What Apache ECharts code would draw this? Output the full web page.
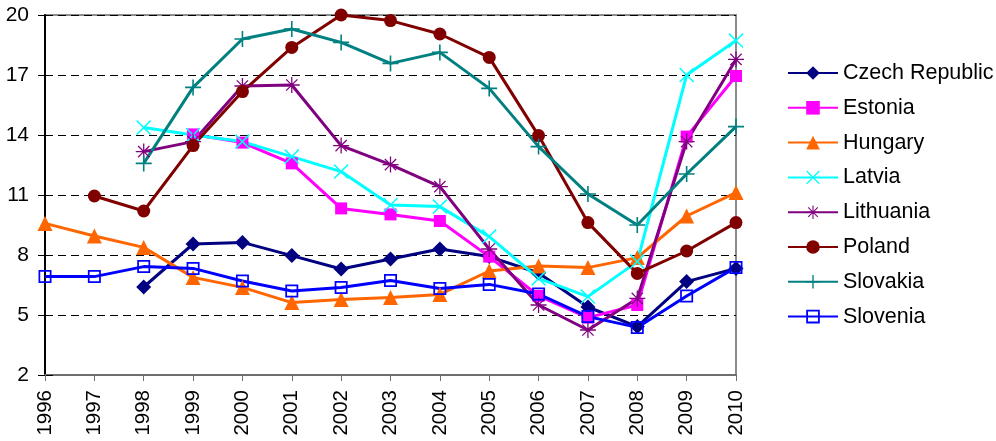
<!DOCTYPE html>
<html>
<head>
<meta charset="utf-8">
<script src="https://cdn.jsdelivr.net/npm/echarts@6/dist/echarts.min.js"></script>
<style>
  html, body { margin: 0; padding: 0; background: #fff; }
  #chart { width: 996px; height: 441px; }
</style>
</head>
<body>
<div id="chart"></div>
<script>
// Years on the category axis
const years = ['1996','1997','1998','1999','2000','2001','2002','2003','2004','2005','2006','2007','2008','2009','2010'];

// Series values per country (null = no data for that year)
const czechRepublic = [null, null, 6.4, 8.55, 8.63, 7.97, 7.3, 7.8, 8.3, 7.92, 7.1, 5.4, 4.42, 6.67, 7.33];
const estonia       = [null, null, null, 14.03, 13.62, 12.58, 10.33, 10.03, 9.7, 7.92, 5.95, 4.87, 5.5, 13.92, 16.95];
const hungary       = [9.58, 8.95, 8.38, 6.88, 6.38, 5.62, 5.78, 5.88, 6.03, 7.2, 7.45, 7.37, 7.87, 9.95, 11.12];
const latvia        = [null, null, 14.37, 14.0, 13.67, 12.92, 12.17, 10.5, 10.42, 8.92, 6.83, 5.92, 7.67, 17.0, 18.72];
const lithuania     = [null, null, 13.17, 13.67, 16.45, 16.5, 13.47, 12.52, 11.42, 8.3, 5.5, 4.25, 5.83, 13.67, 17.78];
const poland        = [null, 10.95, 10.2, 13.47, 16.17, 18.38, 20.0, 19.72, 19.05, 17.88, 13.97, 9.62, 7.08, 8.2, 9.62];
const slovakia      = [null, null, 12.58, 16.38, 18.8, 19.3, 18.63, 17.58, 18.13, 16.33, 13.42, 11.05, 9.5, 12.05, 14.42];
const slovenia      = [6.92, 6.92, 7.42, 7.33, 6.7, 6.2, 6.37, 6.72, 6.33, 6.53, 6.05, 4.92, 4.38, 5.95, 7.38];

// Y axis range and step
const yMin = 2, yMax = 20, yStep = 3;

const fontFamily = 'Liberation Sans, Arial, sans-serif';

// Marker shapes drawn as filled outlines
const plusPath = 'path://M9,0H11V9H20V11H11V20H9V11H0V9H9Z';
const crossPath = 'path://M1.4,0L10,8.6L18.6,0L20,1.4L11.4,10L20,18.6L18.6,20L10,11.4L1.4,20L0,18.6L8.6,10L0,1.4Z';
const starPath = 'path://M9.2,0H10.8V8.1L16.5,2.4L17.6,3.5L11.9,9.2H20V10.8H11.9L17.6,16.5L16.5,17.6L10.8,11.9V20H9.2V11.9L3.5,17.6L2.4,16.5L8.1,10.8H0V9.2H8.1L2.4,3.5L3.5,2.4L9.2,8.1Z';
const hollowSquarePath = 'path://M0,0H12V12H0Z M1.6,1.6V10.4H10.4V1.6Z';

const seriesDefs = [
  { name: 'Czech Republic', data: czechRepublic, color: '#000080', symbol: 'diamond', size: 15 },
  { name: 'Estonia',        data: estonia,       color: '#FF00FF', symbol: 'rect', size: 12 },
  { name: 'Hungary',        data: hungary,       color: '#FF6600', symbol: 'triangle', size: 15 },
  { name: 'Latvia',         data: latvia,        color: '#00FFFF', symbol: crossPath, size: 15 },
  { name: 'Lithuania',      data: lithuania,     color: '#800080', symbol: starPath, size: 16 },
  { name: 'Poland',         data: poland,        color: '#800000', symbol: 'circle', size: 13 },
  { name: 'Slovakia',       data: slovakia,      color: '#008080', symbol: plusPath, size: 16 },
  { name: 'Slovenia',       data: slovenia,      color: '#0000FF', symbol: hollowSquarePath, size: 13 }
];

const chart = echarts.init(document.getElementById('chart'), null, { renderer: 'canvas' });

chart.setOption({
  animation: false,
  backgroundColor: '#fff',
  textStyle: { fontFamily: fontFamily },
  grid: {
    left: 45, right: 260, top: 15, bottom: 66,
    show: true, borderColor: '#8c8c8c', borderWidth: 2, backgroundColor: 'transparent'
  },
  legend: {
    orient: 'vertical',
    left: 787, top: 62,
    padding: 0,
    itemWidth: 50, itemHeight: 17, itemGap: 12.8,
    textStyle: { fontSize: 21.5, lineHeight: 22, color: '#000', fontFamily: fontFamily },
    data: seriesDefs.map(s => s.name)
  },
  xAxis: {
    type: 'category',
    data: years,
    boundaryGap: false,
    axisLine: { lineStyle: { color: '#6e6e6e', width: 2 } },
    axisTick: { show: true, length: 6, alignWithLabel: true, lineStyle: { color: '#6e6e6e', width: 1 } },
    axisLabel: { rotate: 90, fontSize: 20.5, color: '#000', margin: 15, interval: 0 },
    splitLine: { show: false }
  },
  yAxis: [
    {
      type: 'value',
      min: yMin, max: yMax, interval: yStep,
      axisLine: { show: true, lineStyle: { color: '#000', width: 2 } },
      axisTick: { show: true, length: 7, lineStyle: { color: '#000' } },
      axisLabel: { fontSize: 21, color: '#000', margin: 16 },
      splitLine: { show: true, lineStyle: { color: '#000', type: [8, 5], width: 1 } }
    },
    {
      // inner half of the crossing tick marks on the value axis
      type: 'value',
      position: 'left',
      min: yMin, max: yMax, interval: yStep,
      axisLine: { show: false },
      axisTick: { show: true, inside: true, length: 8, lineStyle: { color: '#000' } },
      axisLabel: { show: false },
      splitLine: { show: false }
    }
  ],
  series: seriesDefs.map(s => ({
    name: s.name,
    type: 'line',
    yAxisIndex: 0,
    data: s.data,
    connectNulls: false,
    symbol: s.symbol,
    symbolSize: s.size,
    showAllSymbol: true,
    color: s.color,
    lineStyle: { color: s.color, width: 3 },
    itemStyle: { color: s.color, opacity: 1 },
    emphasis: { disabled: true }
  }))
});
</script>
</body>
</html>
